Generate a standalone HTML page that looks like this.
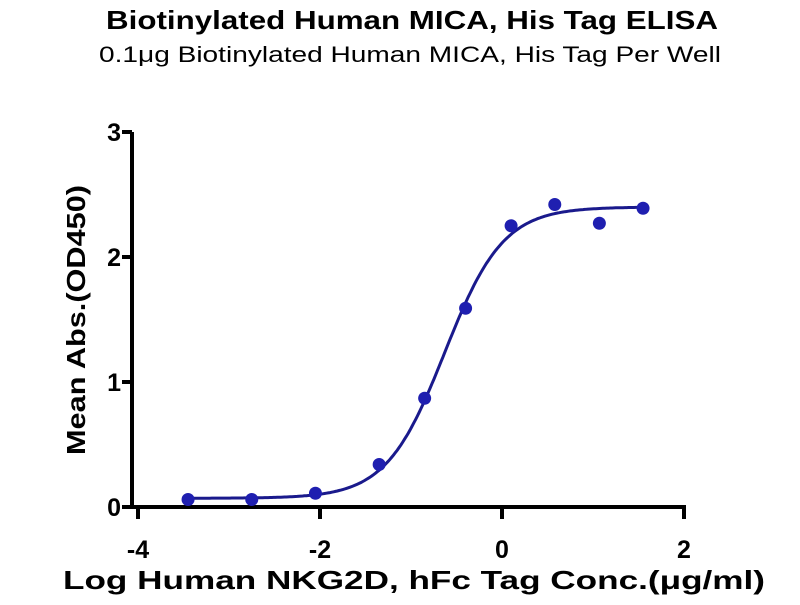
<!DOCTYPE html>
<html><head><meta charset="utf-8"><style>
body{margin:0;background:#fff;}
svg text{font-family:"Liberation Sans",Arial,sans-serif;}
</style></head><body>
<svg width="800" height="600" viewBox="0 0 800 600">
<text x="412" y="29" text-anchor="middle" font-size="26" font-weight="bold" textLength="612" lengthAdjust="spacingAndGlyphs">Biotinylated Human MICA, His Tag ELISA</text>
<text x="410" y="62" text-anchor="middle" font-size="22" textLength="622" lengthAdjust="spacingAndGlyphs">0.1μg Biotinylated Human MICA, His Tag Per Well</text>
<g id="axes"></g>
<g id="plot"></g>
<text x="414" y="589" text-anchor="middle" font-size="26" font-weight="bold" textLength="702" lengthAdjust="spacingAndGlyphs">Log Human NKG2D, hFc Tag Conc.(μg/ml)</text>
<text transform="translate(85,320) rotate(-90)" text-anchor="middle" font-size="26" font-weight="bold" textLength="270" lengthAdjust="spacingAndGlyphs">Mean Abs.(OD450)</text>
</svg>
<script>
const xValues=[-3.45,-2.75,-2.05,-1.35,-0.85,-0.4,0.1,0.58,1.07,1.55];
const yValues=[0.06,0.06,0.11,0.34,0.87,1.59,2.25,2.42,2.27,2.39];
const xTicks=[-4,-2,0,2];
const yTicks=[0,1,2,3];
const fitParams=[0.07,2.40,-0.63,1.35];
const NS="http://www.w3.org/2000/svg";
const sx=v=>138+(v+4)*91;
const sy=v=>507-v*125;
function mk(t,a,p){const e=document.createElementNS(NS,t);for(const k in a)e.setAttribute(k,a[k]);p.appendChild(e);return e;}
const ax=document.getElementById('axes'),pl=document.getElementById('plot');
const ya=mk('line',{x1:132,y1:sy(3),x2:132,y2:509,stroke:'#000','stroke-width':4},ax);


const xa=mk('line',{x1:130,y1:507,x2:sx(2)+2,y2:507,stroke:'#000','stroke-width':4},ax);


yTicks.forEach(t=>{
 const l=mk('line',{x1:122,y1:sy(t),x2:132,y2:sy(t),stroke:'#000','stroke-width':4},ax);
 
 
 const tx=mk('text',{x:121,y:sy(t)+9,'text-anchor':'end','font-size':25,'font-weight':'bold'},ax);
 tx.textContent=t;
 
 
});
xTicks.forEach(t=>{
 const l=mk('line',{x1:sx(t),y1:507,x2:sx(t),y2:519,stroke:'#000','stroke-width':4},ax);
 
 
 const tx=mk('text',{x:sx(t),y:558,'text-anchor':'middle','font-size':25,'font-weight':'bold'},ax);
 tx.textContent=t;
 
 
});
const [b,tp,ec,h]=fitParams;
let d='';
for(let x=xValues[0];x<=xValues[xValues.length-1]+1e-9;x+=0.02){
 const y=b+(tp-b)/(1+Math.pow(10,(ec-x)*h));
 d+=(d?'L':'M')+sx(x).toFixed(1)+','+sy(y).toFixed(1);
}
const c=mk('path',{d:d,fill:'none',stroke:'#1a1a8c','stroke-width':3},pl);


xValues.forEach((x,i)=>{
 const p=mk('circle',{cx:sx(x),cy:sy(yValues[i]),r:6.5,fill:'#1f1fb0'},pl);
 
 
});
</script>
</body></html>
